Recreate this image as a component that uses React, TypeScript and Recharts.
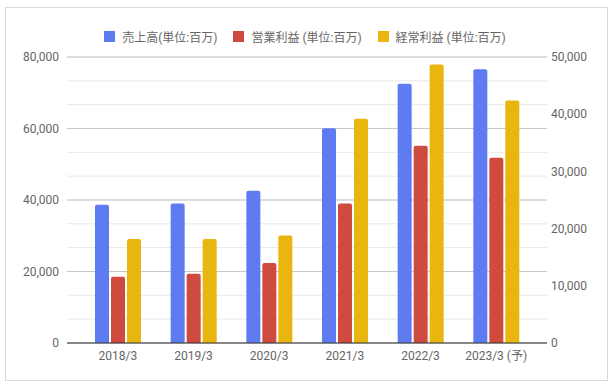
import { BarChart, Bar, XAxis, YAxis, CartesianGrid } from 'recharts';

const categories = ['2018/3', '2019/3', '2020/3', '2021/3', '2022/3', '2023/3 (予)'];
const sales = [38700, 39000, 42600, 60100, 72500, 76600];
const operatingProfit = [11600, 12100, 14000, 24400, 34500, 32400];
const ordinaryProfit = [18200, 18200, 18800, 39200, 48700, 42400];

const leftTicks = [0, 20000, 40000, 60000, 80000];
const rightTicks = [0, 10000, 20000, 30000, 40000, 50000];
const minorSteps = 12;

const series = [
  { key: 'sales', name: '売上高(単位:百万)', color: '#5f7bf1', axis: 'left' },
  { key: 'op', name: '営業利益 (単位:百万)', color: '#cf4a3f', axis: 'right' },
  { key: 'ord', name: '経常利益 (単位:百万)', color: '#e9b60f', axis: 'right' },
];

const data = categories.map((name, i) => ({
  name,
  sales: sales[i],
  op: operatingProfit[i],
  ord: ordinaryProfit[i],
}));

const fmt = (v: number) => v.toLocaleString('en-US');
const FONT = 'Roboto, "Noto Sans CJK JP", sans-serif';

// light lines at every 1/12 of the plot height
const minorLines = (args: any) => {
  const top = args?.offset?.top ?? args?.yAxis?.y ?? 57;
  const h = args?.offset?.height ?? args?.yAxis?.height ?? 286;
  const out: number[] = [];
  for (let i = 0; i <= minorSteps; i++) out.push(top + (h * i) / minorSteps);
  return out;
};

function LegendBox() {
  return (
    <div
      style={{
        position: 'absolute',
        left: 0,
        top: 27,
        width: 610,
        height: 18,
        display: 'flex',
        alignItems: 'center',
        justifyContent: 'center',
        fontFamily: FONT,
        fontSize: 12,
        color: '#666',
        zIndex: 2,
      }}
    >
      {series.map(s => (
        <div key={s.key} style={{ display: 'flex', alignItems: 'center', margin: '0 8px' }}>
          <span style={{ width: 11, height: 11, background: s.color, marginRight: 7, display: 'inline-block' }} />
          <span>{s.name}</span>
        </div>
      ))}
    </div>
  );
}

export default function App() {
  return (
    <div style={{ position: 'absolute', left: 0, top: 0, width: 614, height: 386, background: '#fff' }}>
      <div
        style={{
          position: 'absolute',
          left: 5,
          top: 7,
          width: 601,
          height: 372,
          border: '1px solid #d9d9d9',
        }}
      />
      <BarChart
        width={614}
        height={386}
        data={data}
        margin={{ top: 57, right: 0, bottom: 18, left: 0 }}
        barSize={14}
        barGap={2}
        style={{ position: 'absolute', left: 0, top: 0, fontFamily: FONT }}
      >
        <CartesianGrid
          yAxisId="left"
          vertical={false}
          stroke="#e8e8e8"
          horizontalCoordinatesGenerator={minorLines}
        />
        <CartesianGrid yAxisId="left" vertical={false} stroke="#c8c8c8" />
        <XAxis
          dataKey="name"
          padding={{ left: 13, right: 13 }}
          axisLine={{ stroke: '#333' }}
          tickLine={false}
          tick={{ fill: '#666', fontSize: 12 }}
          height={25}
        />
        <YAxis
          yAxisId="left"
          orientation="left"
          domain={[0, 80000]}
          ticks={leftTicks}
          tickFormatter={fmt}
          axisLine={false}
          tickLine={false}
          width={67}
          tickMargin={2}
          tick={{ fill: '#666', fontSize: 12 }}
        />
        <YAxis
          yAxisId="right"
          orientation="right"
          domain={[0, 50000]}
          ticks={rightTicks}
          tickFormatter={fmt}
          axisLine={false}
          tickLine={false}
          width={67}
          tickMargin={-2}
          tick={{ fill: '#666', fontSize: 12 }}
        />
        {series.map(s => (
          <Bar
            key={s.key}
            dataKey={s.key}
            name={s.name}
            yAxisId={s.axis}
            fill={s.color}
            radius={[2, 2, 0, 0]}
            isAnimationActive={false}
          />
        ))}
      </BarChart>
      <LegendBox />
    </div>
  );
}
